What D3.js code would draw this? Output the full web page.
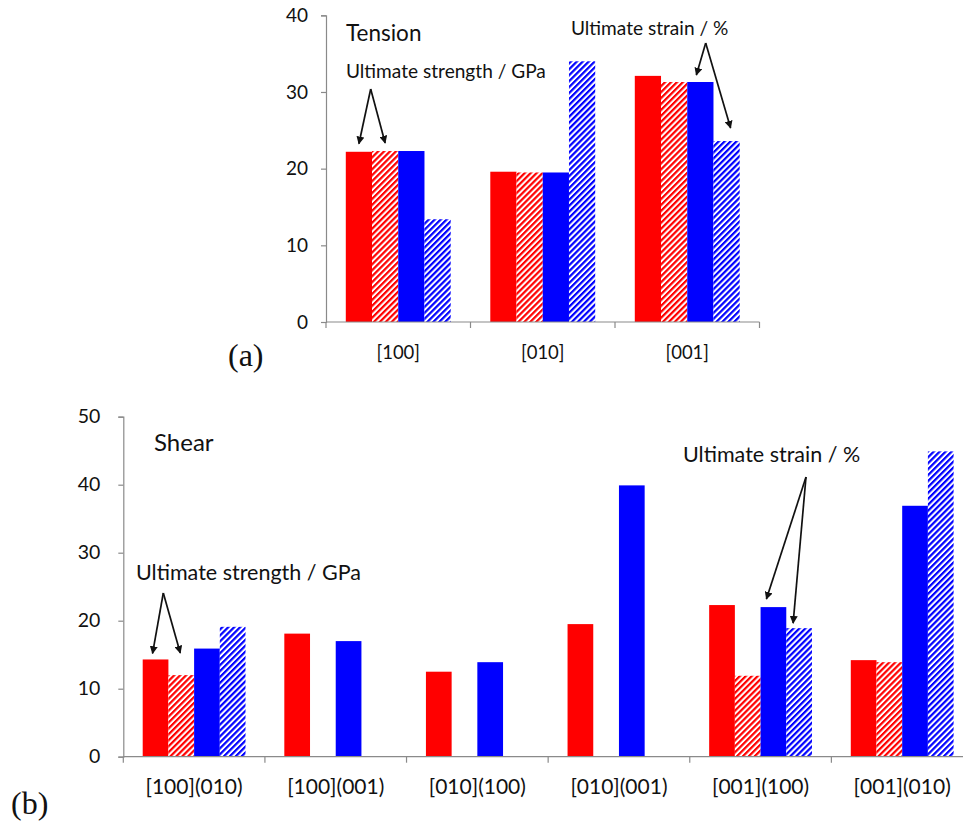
<!DOCTYPE html>
<html>
<head>
<meta charset="utf-8">
<script src="https://cdn.jsdelivr.net/npm/d3@7/dist/d3.min.js"></script>
<style>
  html, body { margin: 0; padding: 0; background: #fff; }
  svg { display: block; }
  text { font-family: Lato, "Open Sans", sans-serif; fill: #111; }
  .panel-tag { font-family: "Liberation Serif", "DejaVu Serif", serif; }
</style>
</head>
<body>
<svg id="chart" width="963" height="821"></svg>
<script>
// ---- Tension (panel a) ----
const tensionCategories = ["[100]", "[010]", "[001]"];
const tensionStrengthRed = [22.2, 19.6, 32.1];
const tensionStrainRed   = [22.3, 19.5, 31.3];
const tensionStrengthBlue = [22.3, 19.5, 31.3];
const tensionStrainBlue   = [13.4, 34.0, 23.6];
const tensionTicks = [0, 10, 20, 30, 40];

// ---- Shear (panel b) ----
const shearCategories = ["[100](010)", "[100](001)", "[010](100)", "[010](001)", "[001](100)", "[001](010)"];
const shearStrengthRed = [14.3, 18.1, 12.5, 19.5, 22.3, 14.2];
const shearStrainRed   = [12.0, null, null, null, 11.9, 13.9];
const shearStrengthBlue = [15.9, 17.0, 13.9, 39.9, 22.0, 36.9];
const shearStrainBlue   = [19.1, null, null, null, 18.9, 44.9];
const shearTicks = [0, 10, 20, 30, 40, 50];

const seriesKeys = ["strengthRed", "strainRed", "strengthBlue", "strainBlue"];
const seriesFill = {
  strengthRed: "#ff0000",
  strainRed: "url(#hatch-red)",
  strengthBlue: "#0000ff",
  strainBlue: "url(#hatch-blue)"
};

const svg = d3.select("#chart");
svg.append("rect").attr("width", 963).attr("height", 821).attr("fill", "#fff");

// diagonal hatch patterns
const defs = svg.append("defs");
[["hatch-red", "#ff0000"], ["hatch-blue", "#0000ff"]].forEach(([id, col]) => {
  const p = defs.append("pattern")
    .attr("id", id)
    .attr("patternUnits", "userSpaceOnUse")
    .attr("width", 4.2).attr("height", 4.2)
    .attr("patternTransform", "rotate(45)");
  p.append("rect").attr("width", 4.2).attr("height", 4.2).attr("fill", "#fff");
  p.append("rect").attr("x", 0).attr("width", 2.2).attr("height", 4.2).attr("fill", col);
});

defs.append("marker")
  .attr("id", "arrowhead")
  .attr("viewBox", "0 0 10 10")
  .attr("refX", 9).attr("refY", 5)
  .attr("markerWidth", 8).attr("markerHeight", 8)
  .attr("markerUnits", "userSpaceOnUse")
  .attr("orient", "auto")
  .append("path").attr("d", "M0,0 L10,5 L0,10 Z").attr("fill", "#111");

function buildRows(cats, a, b, c, d) {
  return cats.map((cat, i) => ({
    cat,
    strengthRed: a[i], strainRed: b[i], strengthBlue: c[i], strainBlue: d[i]
  }));
}

function drawPanel(opts) {
  const { cats, rows, ticks, xRange, yRange, yMax, tickFont, tickPad, catFont, catY } = opts;
  const g = svg.append("g");

  const x0 = d3.scaleBand().domain(cats).range(xRange).padding(0);
  const pad = x0.bandwidth() * 0.137;
  const x1 = d3.scaleBand().domain(seriesKeys).range([pad, x0.bandwidth() - pad]).padding(0);
  const y = d3.scaleLinear().domain([0, yMax]).range(yRange);

  // bars
  const groups = g.selectAll("g.grp").data(rows).join("g")
    .attr("class", "grp")
    .attr("transform", d => `translate(${x0(d.cat)},0)`);
  groups.selectAll("rect")
    .data(d => seriesKeys.filter(k => d[k] != null).map(k => ({ key: k, value: d[k] })))
    .join("rect")
    .attr("x", d => x1(d.key))
    .attr("width", x1.bandwidth())
    .attr("y", d => y(d.value))
    .attr("height", d => y(0) - y(d.value))
    .attr("fill", d => seriesFill[d.key]);

  // y axis
  const yAxis = g.append("g")
    .attr("transform", `translate(${xRange[0]},0)`)
    .call(d3.axisLeft(y).tickValues(ticks).tickSize(5).tickPadding(tickPad).tickFormat(d3.format("d")));
  yAxis.select(".domain").attr("stroke", "#8a8a8a").attr("stroke-width", 1.2);
  yAxis.selectAll(".tick line").attr("stroke", "#8a8a8a").attr("stroke-width", 1.2);
  yAxis.selectAll(".tick text").attr("font-size", tickFont).attr("fill", "#111")
    .attr("font-family", "Lato, sans-serif");

  // x axis: baseline with tick marks at band boundaries
  const xAxis = g.append("g");
  xAxis.append("line")
    .attr("x1", xRange[0]).attr("x2", xRange[1])
    .attr("y1", y(0)).attr("y2", y(0))
    .attr("stroke", "#8a8a8a").attr("stroke-width", 1.2);
  const bounds = cats.map(c => x0(c)).concat([x0(cats[cats.length - 1]) + x0.bandwidth()]);
  xAxis.selectAll("line.bt").data(bounds).join("line")
    .attr("class", "bt")
    .attr("x1", d => d).attr("x2", d => d)
    .attr("y1", y(0)).attr("y2", y(0) + 6)
    .attr("stroke", "#8a8a8a").attr("stroke-width", 1.2);
  xAxis.selectAll("text").data(cats).join("text")
    .attr("x", d => x0(d) + x0.bandwidth() / 2)
    .attr("y", catY)
    .attr("text-anchor", "middle")
    .attr("font-size", catFont)
    .text(d => d);

  return { x0, x1, y, g };
}

function arrow(x1, y1, x2, y2) {
  svg.append("line")
    .attr("x1", x1).attr("y1", y1).attr("x2", x2).attr("y2", y2)
    .attr("stroke", "#111").attr("stroke-width", 1.7)
    .attr("marker-end", "url(#arrowhead)");
}

function barTop(panel, cat, key, value) {
  return {
    x: panel.x0(cat) + panel.x1(key) + panel.x1.bandwidth() / 2,
    y: panel.y(value)
  };
}

// ---- panel (a) ----
const pa = drawPanel({
  cats: tensionCategories,
  rows: buildRows(tensionCategories, tensionStrengthRed, tensionStrainRed, tensionStrengthBlue, tensionStrainBlue),
  ticks: tensionTicks,
  xRange: [326, 759.5],
  yRange: [322, 15.3],
  yMax: 40,
  tickFont: 19,
  tickPad: 13,
  catFont: 18.5,
  catY: 359
});

svg.append("text").attr("x", 346).attr("y", 41).attr("font-size", 22.5).text("Tension");
svg.append("text").attr("x", 346).attr("y", 78).attr("font-size", 19.1).text("Ultimate strength / GPa");
svg.append("text").attr("x", 571).attr("y", 35).attr("font-size", 19.1).text("Ultimate strain / %");

{
  const t1 = barTop(pa, "[100]", "strengthRed", tensionStrengthRed[0]);
  const t2 = barTop(pa, "[100]", "strainRed", tensionStrainRed[0]);
  arrow(370.7, 89, t1.x, t1.y - 8);
  arrow(370.7, 89, t2.x, t2.y - 8);
  const t3 = barTop(pa, "[001]", "strengthBlue", tensionStrengthBlue[2]);
  const t4 = barTop(pa, "[001]", "strainBlue", tensionStrainBlue[2]);
  arrow(705.7, 43, t3.x - 4, t3.y - 7);
  arrow(705.7, 43, t4.x + 4, t4.y - 13);
}

svg.append("text").attr("class", "panel-tag").attr("x", 228).attr("y", 366)
  .attr("font-size", 32).text("(a)");

// ---- panel (b) ----
const pb = drawPanel({
  cats: shearCategories,
  rows: buildRows(shearCategories, shearStrengthRed, shearStrainRed, shearStrengthBlue, shearStrainBlue),
  ticks: shearTicks,
  xRange: [123.3, 973],
  yRange: [756.7, 416.7],
  yMax: 50,
  tickFont: 19.5,
  tickPad: 18,
  catFont: 21,
  catY: 794
});

svg.append("text").attr("x", 154).attr("y", 451).attr("font-size", 24).text("Shear");
svg.append("text").attr("x", 136).attr("y", 580).attr("font-size", 21.5).text("Ultimate strength / GPa");
svg.append("text").attr("x", 683).attr("y", 462).attr("font-size", 21.5).text("Ultimate strain / %");

{
  const t1 = barTop(pb, shearCategories[0], "strengthRed", shearStrengthRed[0]);
  const t2 = barTop(pb, shearCategories[0], "strainRed", shearStrainRed[0]);
  arrow(163.3, 593, t1.x - 3, t1.y - 6);
  arrow(163.3, 593, t2.x - 1, 653);
  const t3 = barTop(pb, shearCategories[4], "strengthBlue", shearStrengthBlue[4]);
  const t4 = barTop(pb, shearCategories[4], "strainBlue", shearStrainBlue[4]);
  arrow(806, 477, t3.x - 7, t3.y - 8);
  arrow(806, 477, t4.x - 6, t4.y - 5);
}

svg.append("text").attr("class", "panel-tag").attr("x", 11).attr("y", 814)
  .attr("font-size", 32).text("(b)");
</script>
</body>
</html>
